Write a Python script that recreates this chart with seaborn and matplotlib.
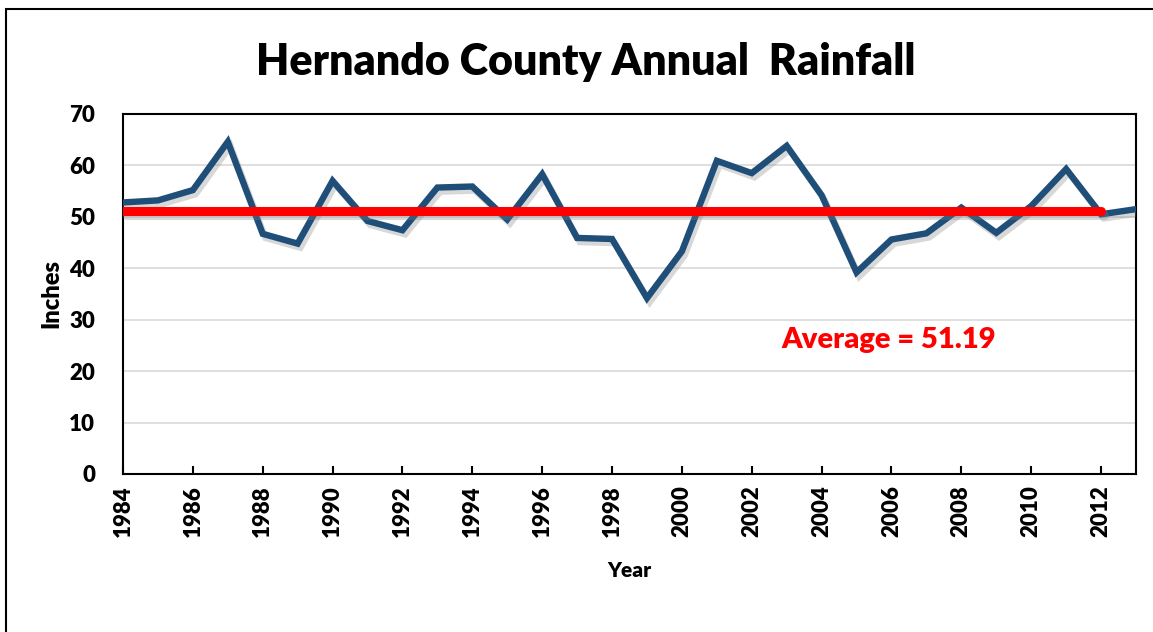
import matplotlib
matplotlib.use("Agg")
import matplotlib.pyplot as plt
import matplotlib.patheffects as pe
import seaborn as sns
import pandas as pd

years = list(range(1984, 2014))
rainfall = [52.8, 53.2, 55.2, 64.6, 46.7, 44.8, 57.0, 49.2, 47.4, 55.7,
            55.9, 49.5, 58.3, 45.9, 45.7, 34.2, 43.3, 60.9, 58.5, 63.8,
            54.2, 39.2, 45.6, 46.8, 51.8, 46.9, 52.1, 59.3, 50.5, 51.5]
average = 51.19
avg_years = [1984, 2012]

df = pd.DataFrame({"Year": years, "Inches": rainfall})

sns.set_style("white")
plt.rcParams['font.family'] = ['Lato', 'DejaVu Sans']
plt.rcParams['text.color'] = 'black'
plt.rcParams['axes.labelcolor'] = 'black'
plt.rcParams['xtick.color'] = 'black'
plt.rcParams['ytick.color'] = 'black'

fig = plt.figure(figsize=(11.53, 6.32), dpi=100)
ax = fig.add_axes([123 / 1153, 1 - 474 / 632, (1136 - 123) / 1153, (474 - 114) / 632])

# outer chart border (runs off the right and bottom of the picture)
fig.patches.append(plt.Rectangle((6 / 1153, -0.05), 1.2, 1 - 9 / 632 + 0.05,
                                 transform=fig.transFigure, fill=False,
                                 edgecolor='black', linewidth=1.5))

shadow = [pe.SimpleLineShadow(offset=(2, -3), alpha=0.3, shadow_color='gray'), pe.Normal()]

sns.lineplot(data=df, x="Year", y="Inches", ax=ax, color='#1F4E79', linewidth=4.6,
             solid_joinstyle='miter', path_effects=shadow, zorder=3)
ax.plot(avg_years, [average, average], color='#FF0000', linewidth=6.5,
        solid_capstyle='round', path_effects=shadow, zorder=4)

ax.set_xlim(1984, 2013)
ax.set_ylim(0, 70)
ax.set_xticks(range(1984, 2013, 2))
ax.set_yticks(range(0, 71, 10))
ax.yaxis.grid(True, color='#D9D9D9', linewidth=1.2)
ax.set_axisbelow(True)

for s in ax.spines.values():
    s.set_visible(True)
    s.set_color('black')
    s.set_linewidth(1.5)

ax.tick_params(axis='x', direction='in', length=6, width=1.5, bottom=True,
               labelsize=16, labelrotation=90, pad=8)
ax.tick_params(axis='y', length=0, labelsize=16, pad=20)
for lbl in ax.get_xticklabels() + ax.get_yticklabels():
    lbl.set_fontweight('heavy')

ax.set_xlabel("Year", fontsize=15, fontweight='heavy', labelpad=17)
ax.set_ylabel("Inches", fontsize=17, fontweight='heavy', labelpad=5)

ax.text(2005.93, 26.1, f"Average = {average:.2f}", color='#FF0000', fontsize=21,
        fontweight='heavy', ha='center', va='center')

fig.text(586 / 1153, 1 - 62 / 632, "Hernando County Annual  Rainfall",
         fontsize=31, fontweight='heavy', ha='center', va='center')

fig.savefig("out.png", dpi=100)
